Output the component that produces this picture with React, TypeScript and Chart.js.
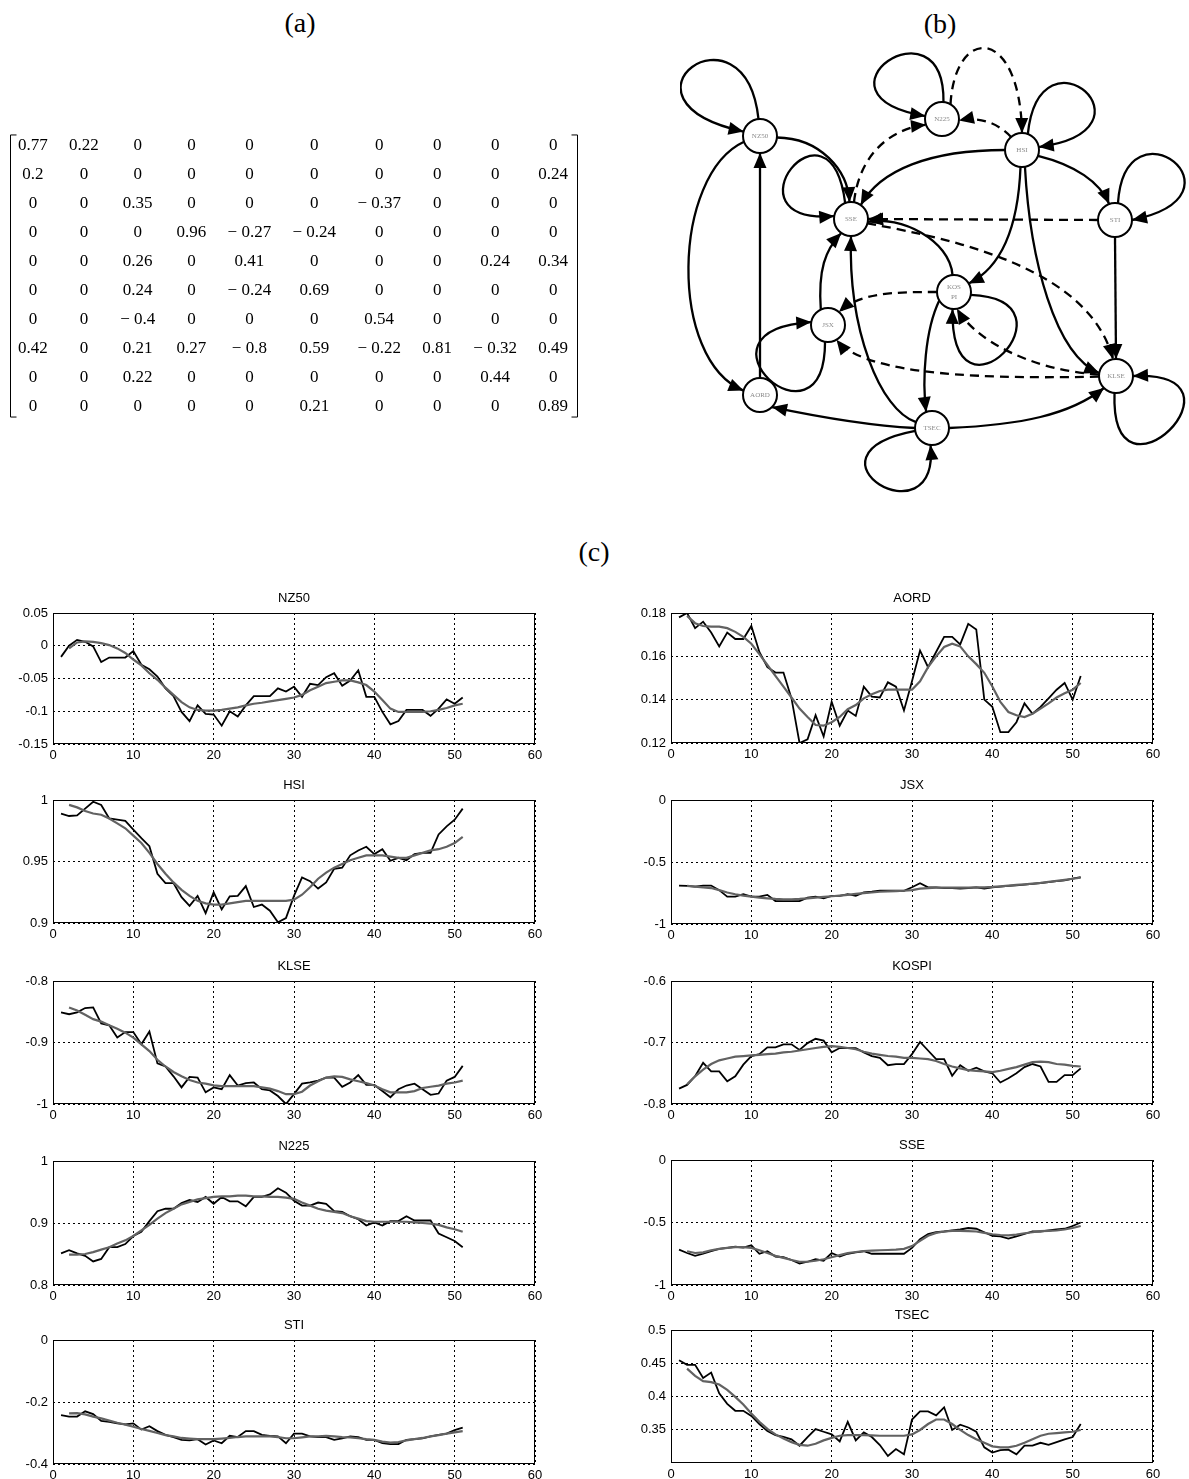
import React, { useEffect, useRef } from "react";
import { Chart, registerables } from "chart.js";

Chart.register(...registerables);

/* ---------------- (a) coefficient matrix ---------------- */
const matrixRow01 = [0.77, 0.22, 0, 0, 0, 0, 0, 0, 0, 0];
const matrixRow02 = [0.2, 0, 0, 0, 0, 0, 0, 0, 0, 0.24];
const matrixRow03 = [0, 0, 0.35, 0, 0, 0, -0.37, 0, 0, 0];
const matrixRow04 = [0, 0, 0, 0.96, -0.27, -0.24, 0, 0, 0, 0];
const matrixRow05 = [0, 0, 0.26, 0, 0.41, 0, 0, 0, 0.24, 0.34];
const matrixRow06 = [0, 0, 0.24, 0, -0.24, 0.69, 0, 0, 0, 0];
const matrixRow07 = [0, 0, -0.4, 0, 0, 0, 0.54, 0, 0, 0];
const matrixRow08 = [0.42, 0, 0.21, 0.27, -0.8, 0.59, -0.22, 0.81, -0.32, 0.49];
const matrixRow09 = [0, 0, 0.22, 0, 0, 0, 0, 0, 0.44, 0];
const matrixRow10 = [0, 0, 0, 0, 0, 0.21, 0, 0, 0, 0.89];
const matrixRows = [
  matrixRow01, matrixRow02, matrixRow03, matrixRow04, matrixRow05,
  matrixRow06, matrixRow07, matrixRow08, matrixRow09, matrixRow10,
];

/* ---------------- (b) network ---------------- */
const graphNodes = ["NZ50", "N225", "HSI", "SSE", "STI", "KOSPI", "JSX", "AORD", "KLSE", "TSEC"];
// from, to, negative (dashed)
const graphEdges: [string, string, boolean][] = [
  ["NZ50", "NZ50", false],
  ["AORD", "NZ50", false],
  ["NZ50", "AORD", false],
  ["NZ50", "SSE", false],
  ["SSE", "SSE", false],
  ["N225", "N225", false],
  ["HSI", "N225", true],
  ["N225", "HSI", true],
  ["SSE", "N225", true],
  ["HSI", "HSI", false],
  ["HSI", "SSE", false],
  ["HSI", "STI", false],
  ["STI", "STI", false],
  ["STI", "SSE", true],
  ["SSE", "KLSE", true],
  ["STI", "KLSE", false],
  ["HSI", "KOSPI", false],
  ["HSI", "KLSE", false],
  ["KOSPI", "SSE", false],
  ["KOSPI", "KOSPI", false],
  ["KLSE", "KOSPI", true],
  ["KOSPI", "JSX", true],
  ["KLSE", "JSX", true],
  ["KOSPI", "TSEC", false],
  ["TSEC", "SSE", false],
  ["JSX", "SSE", false],
  ["JSX", "JSX", false],
  ["TSEC", "AORD", false],
  ["TSEC", "KLSE", false],
  ["TSEC", "TSEC", false],
  ["KLSE", "KLSE", false],
];

/* ---------------- (c) time series ---------------- */
const xTicks = [0, 10, 20, 30, 40, 50, 60];

const nz50Actual = [-0.017, 0, 0.009, 0.006, -0.001, -0.025, -0.018, -0.018, -0.018, -0.008,
  -0.029, -0.036, -0.047, -0.065, -0.077, -0.101, -0.115, -0.091, -0.104, -0.105,
  -0.122, -0.1, -0.108, -0.091, -0.077, -0.077, -0.077, -0.065, -0.07, -0.0625,
  -0.078, -0.058, -0.06, -0.048, -0.042, -0.061, -0.053, -0.0375, -0.078, -0.078,
  -0.101, -0.12, -0.115, -0.098, -0.098, -0.098, -0.107, -0.096, -0.082, -0.0885, -0.079];
const nz50Fit = [-0.004, 0.005, 0.0068, 0.006, 0.004, 0.001, -0.004, -0.011, -0.021,
  -0.03, -0.042, -0.052, -0.064, -0.075, -0.086, -0.094, -0.098, -0.099, -0.099,
  -0.098, -0.096, -0.094, -0.091, -0.0885, -0.087, -0.085, -0.083, -0.081, -0.079,
  -0.075, -0.068, -0.0625, -0.057, -0.055, -0.053, -0.053, -0.056, -0.06, -0.07,
  -0.083, -0.096, -0.101, -0.101, -0.101, -0.101, -0.1, -0.098, -0.095, -0.091, -0.0885];
const nz50Range = [-0.15, 0.05];
const nz50Ticks = [-0.15, -0.1, -0.05, 0, 0.05];

const hsiActual = [0.989, 0.987, 0.9875, 0.993, 0.9986, 0.996, 0.985, 0.984, 0.983, 0.976,
  0.969, 0.9625, 0.94, 0.9325, 0.9325, 0.921, 0.914, 0.922, 0.908, 0.925,
  0.911, 0.9217, 0.922, 0.93, 0.913, 0.915, 0.91, 0.9006, 0.904, 0.922,
  0.937, 0.934, 0.928, 0.933, 0.944, 0.945, 0.955, 0.959, 0.962, 0.956,
  0.96, 0.9506, 0.953, 0.951, 0.956, 0.957, 0.957, 0.972, 0.9786, 0.984, 0.993];
const hsiFit = [0.996, 0.994, 0.991, 0.989, 0.988, 0.985, 0.981, 0.977, 0.971,
  0.965, 0.957, 0.948, 0.94, 0.933, 0.927, 0.922, 0.918, 0.916, 0.915,
  0.915, 0.916, 0.917, 0.918, 0.918, 0.918, 0.918, 0.918, 0.918, 0.919,
  0.923, 0.929, 0.936, 0.941, 0.945, 0.948, 0.951, 0.953, 0.955, 0.955,
  0.955, 0.954, 0.953, 0.953, 0.955, 0.957, 0.959, 0.96, 0.962, 0.965, 0.97];
const hsiRange = [0.9, 1];
const hsiTicks = [0.9, 0.95, 1];

const klseActual = [-0.851, -0.854, -0.851, -0.844, -0.843, -0.869, -0.872, -0.892, -0.883, -0.883,
  -0.903, -0.882, -0.934, -0.939, -0.955, -0.973, -0.956, -0.957, -0.981, -0.973,
  -0.976, -0.953, -0.97, -0.966, -0.965, -0.976, -0.978, -0.987, -1.0, -0.984,
  -0.967, -0.965, -0.962, -0.957, -0.957, -0.972, -0.965, -0.953, -0.969, -0.969,
  -0.979, -0.989, -0.976, -0.97, -0.967, -0.976, -0.985, -0.983, -0.962, -0.956, -0.938];
const klseFit = [-0.843, -0.848, -0.855, -0.862, -0.866, -0.872, -0.8775, -0.884, -0.892,
  -0.903, -0.914, -0.928, -0.939, -0.948, -0.955, -0.961, -0.965, -0.967, -0.9697,
  -0.971, -0.971, -0.971, -0.971, -0.971, -0.973, -0.975, -0.979, -0.984, -0.984,
  -0.98, -0.97, -0.963, -0.957, -0.955, -0.956, -0.96, -0.963, -0.966, -0.97,
  -0.976, -0.981, -0.981, -0.981, -0.979, -0.974, -0.972, -0.97, -0.967, -0.965, -0.962];
const klseRange = [-1, -0.8];
const klseTicks = [-1, -0.9, -0.8];

const n225Actual = [0.851, 0.856, 0.851, 0.847, 0.838, 0.842, 0.861, 0.861, 0.866, 0.879,
  0.886, 0.903, 0.919, 0.923, 0.923, 0.932, 0.937, 0.934, 0.942, 0.931,
  0.942, 0.935, 0.935, 0.927, 0.942, 0.942, 0.946, 0.956, 0.949, 0.936,
  0.928, 0.928, 0.933, 0.931, 0.919, 0.918, 0.911, 0.906, 0.896, 0.901,
  0.896, 0.903, 0.903, 0.911, 0.904, 0.904, 0.904, 0.883, 0.877, 0.871, 0.861];
const n225Fit = [0.849, 0.849, 0.85, 0.853, 0.857, 0.861, 0.867, 0.872, 0.879,
  0.888, 0.897, 0.907, 0.916, 0.923, 0.93, 0.934, 0.938, 0.94, 0.942,
  0.943, 0.943, 0.944, 0.944, 0.943, 0.943, 0.942, 0.942, 0.941, 0.939,
  0.933, 0.928, 0.923, 0.92, 0.918, 0.916, 0.911, 0.907, 0.903, 0.902,
  0.902, 0.902, 0.902, 0.902, 0.901, 0.9, 0.899, 0.897, 0.893, 0.89, 0.886];
const n225Range = [0.8, 1];
const n225Ticks = [0.8, 0.9, 1];

const stiActual = [-0.242, -0.247, -0.247, -0.23, -0.239, -0.261, -0.264, -0.269, -0.272, -0.269,
  -0.289, -0.278, -0.294, -0.306, -0.313, -0.322, -0.324, -0.32, -0.337, -0.324,
  -0.333, -0.309, -0.313, -0.294, -0.294, -0.306, -0.309, -0.311, -0.333, -0.302,
  -0.302, -0.311, -0.313, -0.313, -0.322, -0.317, -0.311, -0.313, -0.322, -0.322,
  -0.333, -0.336, -0.336, -0.322, -0.32, -0.317, -0.311, -0.306, -0.302, -0.291, -0.283];
const stiFit = [-0.237, -0.236, -0.24, -0.247, -0.253, -0.26, -0.267, -0.273, -0.28,
  -0.287, -0.293, -0.3, -0.307, -0.311, -0.316, -0.318, -0.32, -0.32, -0.32,
  -0.318, -0.316, -0.313, -0.311, -0.311, -0.311, -0.311, -0.313, -0.317, -0.317,
  -0.314, -0.311, -0.311, -0.309, -0.311, -0.313, -0.314, -0.317, -0.32, -0.322,
  -0.328, -0.331, -0.329, -0.324, -0.32, -0.316, -0.311, -0.307, -0.302, -0.298, -0.294];
const stiRange = [-0.4, 0];
const stiTicks = [-0.4, -0.2, 0];

const aordActual = [0.178, 0.18, 0.173, 0.176, 0.171, 0.1646, 0.171, 0.168, 0.168, 0.174,
  0.162, 0.155, 0.1525, 0.1525, 0.1406, 0.12, 0.1217, 0.1328, 0.123, 0.139,
  0.128, 0.135, 0.1325, 0.146, 0.1414, 0.141, 0.148, 0.146, 0.135, 0.1485,
  0.1627, 0.155, 0.162, 0.169, 0.169, 0.1655, 0.175, 0.1724, 0.14, 0.1367,
  0.125, 0.125, 0.1296, 0.1383, 0.1335, 0.1367, 0.1406, 0.1446, 0.1477, 0.14, 0.1509];
const aordFit = [0.1787, 0.1753, 0.174, 0.1737, 0.1737, 0.173, 0.1713, 0.169, 0.1658,
  0.161, 0.156, 0.151, 0.146, 0.141, 0.1359, 0.132, 0.1283, 0.128, 0.1296,
  0.132, 0.1356, 0.1375, 0.1406, 0.1425, 0.144, 0.1446, 0.1446, 0.1446, 0.1446,
  0.1485, 0.155, 0.16, 0.1643, 0.1658, 0.1646, 0.16, 0.1564, 0.1524, 0.1461,
  0.139, 0.1343, 0.1328, 0.132, 0.1335, 0.1359, 0.1383, 0.141, 0.143, 0.1446, 0.1477];
const aordRange = [0.12, 0.18];
const aordTicks = [0.12, 0.14, 0.16, 0.18];

const jsxActual = [-0.69, -0.693, -0.699, -0.69, -0.69, -0.727, -0.78, -0.78, -0.76, -0.78,
  -0.78, -0.765, -0.815, -0.815, -0.815, -0.815, -0.787, -0.78, -0.793, -0.773,
  -0.773, -0.76, -0.773, -0.746, -0.74, -0.732, -0.732, -0.732, -0.732, -0.704,
  -0.671, -0.704, -0.704, -0.71, -0.71, -0.715, -0.71, -0.704, -0.715, -0.704,
  -0.699, -0.693, -0.688, -0.682, -0.677, -0.671, -0.663, -0.655, -0.649, -0.635, -0.622];
const jsxFit = [-0.693, -0.699, -0.704, -0.71, -0.727, -0.746, -0.76, -0.771, -0.779,
  -0.787, -0.793, -0.798, -0.801, -0.801, -0.798, -0.793, -0.787, -0.782, -0.776,
  -0.771, -0.765, -0.757, -0.751, -0.746, -0.74, -0.737, -0.735, -0.732, -0.727,
  -0.715, -0.71, -0.707, -0.707, -0.707, -0.707, -0.707, -0.704, -0.704, -0.701,
  -0.696, -0.69, -0.685, -0.68, -0.674, -0.668, -0.66, -0.652, -0.644, -0.635, -0.627];
const jsxRange = [-1, 0];
const jsxTicks = [-1, -0.5, 0];

const kospiActual = [-0.775, -0.769, -0.755, -0.733, -0.747, -0.747, -0.763, -0.755, -0.736, -0.722,
  -0.719, -0.708, -0.708, -0.703, -0.703, -0.712, -0.701, -0.694, -0.697, -0.716,
  -0.709, -0.709, -0.709, -0.716, -0.722, -0.725, -0.737, -0.735, -0.735, -0.719,
  -0.699, -0.713, -0.727, -0.727, -0.754, -0.737, -0.746, -0.741, -0.747, -0.75,
  -0.765, -0.758, -0.75, -0.74, -0.735, -0.739, -0.764, -0.764, -0.753, -0.753, -0.742];
const kospiFit = [-0.768, -0.755, -0.744, -0.735, -0.729, -0.726, -0.723, -0.722, -0.721,
  -0.72, -0.719, -0.718, -0.716, -0.715, -0.713, -0.711, -0.709, -0.707, -0.706,
  -0.707, -0.709, -0.711, -0.715, -0.718, -0.72, -0.722, -0.723, -0.725, -0.725,
  -0.726, -0.727, -0.73, -0.735, -0.739, -0.742, -0.745, -0.746, -0.747, -0.748,
  -0.746, -0.743, -0.74, -0.736, -0.732, -0.731, -0.732, -0.735, -0.736, -0.738, -0.739];
const kospiRange = [-0.8, -0.6];
const kospiTicks = [-0.8, -0.7, -0.6];

const sseActual = [-0.717, -0.744, -0.767, -0.75, -0.73, -0.711, -0.703, -0.694, -0.7, -0.683,
  -0.75, -0.73, -0.772, -0.778, -0.8, -0.828, -0.814, -0.794, -0.806, -0.744,
  -0.772, -0.75, -0.739, -0.73, -0.75, -0.75, -0.75, -0.75, -0.75, -0.703,
  -0.633, -0.592, -0.578, -0.572, -0.564, -0.556, -0.544, -0.55, -0.578, -0.606,
  -0.611, -0.628, -0.611, -0.592, -0.572, -0.572, -0.564, -0.556, -0.55, -0.528, -0.5];
const sseFit = [-0.73, -0.744, -0.739, -0.722, -0.711, -0.703, -0.697, -0.697, -0.703,
  -0.722, -0.744, -0.767, -0.783, -0.8, -0.814, -0.814, -0.806, -0.794, -0.778,
  -0.761, -0.744, -0.736, -0.728, -0.725, -0.722, -0.72, -0.717, -0.711, -0.689,
  -0.647, -0.606, -0.583, -0.572, -0.567, -0.567, -0.569, -0.572, -0.583, -0.594,
  -0.6, -0.603, -0.597, -0.586, -0.578, -0.569, -0.567, -0.564, -0.556, -0.544, -0.528];
const sseRange = [-1, 0];
const sseTicks = [-1, -0.5, 0];

const tsecActual = [0.4545, 0.4476, 0.4476, 0.428, 0.436, 0.4047, 0.389, 0.3785, 0.3785, 0.3707,
  0.3586, 0.348, 0.342, 0.3393, 0.3356, 0.326, 0.339, 0.351, 0.347, 0.343,
  0.3325, 0.362, 0.334, 0.346, 0.339, 0.327, 0.3105, 0.321, 0.313, 0.3654,
  0.3775, 0.3775, 0.3717, 0.3838, 0.3497, 0.3576, 0.3534, 0.347, 0.3236, 0.3157,
  0.3194, 0.32, 0.313, 0.3262, 0.3262, 0.3304, 0.3272, 0.3314, 0.3356, 0.339, 0.3586];
const tsecFit = [0.442, 0.431, 0.423, 0.4215, 0.418, 0.41, 0.3995, 0.388, 0.3743,
  0.362, 0.3513, 0.343, 0.3367, 0.3314, 0.3272, 0.326, 0.329, 0.334, 0.3377,
  0.341, 0.342, 0.342, 0.342, 0.3415, 0.341, 0.341, 0.341, 0.341, 0.343,
  0.3497, 0.3586, 0.3654, 0.3654, 0.3586, 0.3497, 0.342, 0.3356, 0.3304, 0.325,
  0.3236, 0.3236, 0.326, 0.3304, 0.3356, 0.341, 0.344, 0.345, 0.346, 0.347, 0.3497];
const tsecRange = [0.3, 0.5];
const tsecTicks = [0.35, 0.4, 0.45, 0.5];

type PanelSpec = { title: string; actual: number[]; fit: number[]; range: number[]; ticks: number[] };

const panels: PanelSpec[] = [
  { title: "NZ50", actual: nz50Actual, fit: nz50Fit, range: nz50Range, ticks: nz50Ticks },
  { title: "HSI", actual: hsiActual, fit: hsiFit, range: hsiRange, ticks: hsiTicks },
  { title: "KLSE", actual: klseActual, fit: klseFit, range: klseRange, ticks: klseTicks },
  { title: "N225", actual: n225Actual, fit: n225Fit, range: n225Range, ticks: n225Ticks },
  { title: "STI", actual: stiActual, fit: stiFit, range: stiRange, ticks: stiTicks },
  { title: "AORD", actual: aordActual, fit: aordFit, range: aordRange, ticks: aordTicks },
  { title: "JSX", actual: jsxActual, fit: jsxFit, range: jsxRange, ticks: jsxTicks },
  { title: "KOSPI", actual: kospiActual, fit: kospiFit, range: kospiRange, ticks: kospiTicks },
  { title: "SSE", actual: sseActual, fit: sseFit, range: sseRange, ticks: sseTicks },
  { title: "TSEC", actual: tsecActual, fit: tsecFit, range: tsecRange, ticks: tsecTicks },
];

/* ---------------- layout (positions / sizes only) ---------------- */
// plot-area boxes in page px: left, top, width, height
const panelBoxes: Record<string, number[]> = {
  NZ50: [53, 613, 482, 131],
  HSI: [53, 800, 482, 123],
  KLSE: [53, 981, 482, 123],
  N225: [53, 1161, 482, 124],
  STI: [53, 1340, 482, 124],
  AORD: [671, 613, 482, 130],
  JSX: [671, 800, 482, 124],
  KOSPI: [671, 981, 482, 123],
  SSE: [671, 1160, 482, 125],
  TSEC: [671, 1330, 482, 133],
};

const nodeLayout: Record<string, number[]> = {
  NZ50: [760, 136], N225: [942, 119], HSI: [1022, 150], SSE: [851, 219], STI: [1115, 220],
  KOSPI: [954, 292], JSX: [828, 325], AORD: [760, 395], KLSE: [1116, 376], TSEC: [932, 428],
};
// attach angle at source, attach angle at target, control points (optional)
const edgeRoutes: number[][] = [
  [-95, 195, 745, -5, 600, 100],
  [-90, 90],
  [160, 195, 672, 175, 668, 360],
  [5, -95, 820, 138, 848, 170],
  [-110, 190, 830, 85, 720, 225],
  [-85, 190, 945, -5, 800, 95],
  [-130, 5, 995, 120, 975, 117],
  [-60, -90, 955, 25, 1020, 25],
  [-80, 160, 860, 150, 895, 128],
  [-70, -10, 1040, 20, 1165, 130],
  [180, -55, 930, 150, 880, 170],
  [20, -110, 1075, 165, 1100, 182],
  [-80, 0, 1125, 95, 1255, 195],
  [180, 0],
  [15, -100, 960, 240, 1090, 270],
  [90, -90],
  [95, -30, 1018, 230, 1000, 268],
  [80, 190, 1030, 260, 1055, 355],
  [-95, 10, 950, 240, 900, 215],
  [10, 95, 1085, 300, 950, 440],
  [185, 80, 1030, 370, 975, 340],
  [180, -50, 890, 292, 860, 293],
  [178, 60, 950, 380, 860, 370],
  [150, -110, 925, 330, 922, 380],
  [200, 90, 880, 410, 848, 330],
  [-115, 125, 818, 270, 825, 250],
  [100, 190, 825, 460, 680, 330],
  [180, 45, 860, 425, 810, 415],
  [0, 135, 1020, 425, 1070, 415],
  [170, 95, 790, 455, 940, 545],
  [95, 0, 1110, 520, 1260, 370],
];

const SANS = '"Liberation Sans", Arial, Helvetica, sans-serif';
const SERIF = '"Liberation Serif", "Times New Roman", serif';

function fmtCell(v: number): string {
  if (v === 0) return "0";
  if (v < 0) return "\u2212 " + String(-v);
  return String(v);
}

function fmtTick(v: number): string {
  return String(Math.round(v * 10000) / 10000);
}

/* ---------------- components ---------------- */
function MatrixChart() {
  const ref = useRef<HTMLCanvasElement>(null);
  useEffect(() => {
    const cells: any[] = [];
    matrixRows.forEach((row, r) => row.forEach((v, c) => cells.push({ x: c, y: r })));
    const textPlugin = {
      id: "matrixText",
      afterDatasetsDraw(chart: any) {
        const { ctx, chartArea, scales } = chart;
        const ys = scales.y;
        ctx.save();
        ctx.font = "17px " + SERIF;
        const nCols = matrixRows[0].length;
        const widths: number[] = [];
        for (let c = 0; c < nCols; c++) {
          widths.push(Math.max(...matrixRows.map((row) => ctx.measureText(fmtCell(row[c])).width)));
        }
        const innerL = chartArea.left + 8;
        const innerR = chartArea.right - 10;
        const total = widths.reduce((a, b) => a + b, 0);
        const gap = (innerR - innerL - total) / (nCols - 1);
        const centers: number[] = [];
        let xx = innerL;
        widths.forEach((w) => {
          centers.push(xx + w / 2);
          xx += w + gap;
        });
        ctx.fillStyle = "#000";
        ctx.textAlign = "center";
        ctx.textBaseline = "middle";
        matrixRows.forEach((row, r) =>
          row.forEach((v, c) => ctx.fillText(fmtCell(v), centers[c], ys.getPixelForValue(r)))
        );
        const top = ys.getPixelForValue(-0.38);
        const bot = ys.getPixelForValue(matrixRows.length - 1 + 0.38);
        const L = chartArea.left + 0.5;
        const R = chartArea.right - 0.5;
        ctx.strokeStyle = "#000";
        ctx.lineWidth = 1;
        ctx.beginPath();
        ctx.moveTo(L + 6, top); ctx.lineTo(L, top); ctx.lineTo(L, bot); ctx.lineTo(L + 6, bot);
        ctx.moveTo(R - 6, top); ctx.lineTo(R, top); ctx.lineTo(R, bot); ctx.lineTo(R - 6, bot);
        ctx.stroke();
        ctx.restore();
      },
    };
    const chart = new Chart(ref.current as HTMLCanvasElement, {
      type: "scatter",
      data: { datasets: [{ data: cells, pointRadius: 0, pointHoverRadius: 0 }] },
      options: {
        animation: false,
        responsive: false,
        events: [],
        layout: { autoPadding: false, padding: { left: 10, right: 12, top: 11.5, bottom: 9.5 } },
        plugins: { legend: { display: false }, tooltip: { enabled: false } },
        scales: {
          x: { type: "linear", display: false, min: 0, max: 9 },
          y: { type: "linear", display: false, min: -0.5, max: 9.5, reverse: true },
        },
      },
      plugins: [textPlugin],
    } as any);
    return () => chart.destroy();
  }, []);
  return <canvas ref={ref} width={590} height={310} style={{ position: "absolute", left: 0, top: 120 }} />;
}

function GraphChart() {
  const ref = useRef<HTMLCanvasElement>(null);
  useEffect(() => {
    const NODE_R = 17;
    const edgePlugin = {
      id: "graphEdges",
      beforeDatasetsDraw(chart: any) {
        const { ctx, scales } = chart;
        const px = (x: number, y: number) => [scales.x.getPixelForValue(x), scales.y.getPixelForValue(y)];
        ctx.save();
        ctx.strokeStyle = "#000";
        ctx.fillStyle = "#000";
        ctx.lineWidth = 2.3;
        graphEdges.forEach(([f, t, neg], i) => {
          const r = edgeRoutes[i];
          const [fx, fy] = nodeLayout[f];
          const [tx, ty] = nodeLayout[t];
          const a1 = (r[0] * Math.PI) / 180;
          const a2 = (r[1] * Math.PI) / 180;
          const s = px(fx + NODE_R * Math.cos(a1), fy + NODE_R * Math.sin(a1));
          const e = px(tx + NODE_R * Math.cos(a2), ty + NODE_R * Math.sin(a2));
          let c1 = s;
          let c2 = s;
          const curved = r.length >= 6;
          if (curved) {
            c1 = px(r[2], r[3]);
            c2 = px(r[4], r[5]);
          }
          ctx.setLineDash(neg ? [9, 6] : []);
          ctx.beginPath();
          ctx.moveTo(s[0], s[1]);
          if (curved) ctx.bezierCurveTo(c1[0], c1[1], c2[0], c2[1], e[0], e[1]);
          else ctx.lineTo(e[0], e[1]);
          ctx.stroke();
          // arrow head
          let dx = e[0] - c2[0];
          let dy = e[1] - c2[1];
          const len = Math.hypot(dx, dy) || 1;
          dx /= len;
          dy /= len;
          const AL = 15;
          const AW = 6.5;
          ctx.setLineDash([]);
          ctx.beginPath();
          ctx.moveTo(e[0], e[1]);
          ctx.lineTo(e[0] - dx * AL - dy * AW, e[1] - dy * AL + dx * AW);
          ctx.lineTo(e[0] - dx * AL + dy * AW, e[1] - dy * AL - dx * AW);
          ctx.closePath();
          ctx.fill();
        });
        ctx.restore();
      },
      afterDatasetsDraw(chart: any) {
        const { ctx, scales } = chart;
        ctx.save();
        ctx.fillStyle = "#8a8a8a";
        ctx.font = "7px " + SERIF;
        ctx.textAlign = "center";
        ctx.textBaseline = "middle";
        graphNodes.forEach((n) => {
          const x = scales.x.getPixelForValue(nodeLayout[n][0]);
          const y = scales.y.getPixelForValue(nodeLayout[n][1]);
          if (n === "KOSPI") {
            ctx.fillText("KOS", x, y - 5);
            ctx.fillText("PI", x, y + 5);
          } else {
            ctx.fillText(n, x, y);
          }
        });
        ctx.restore();
      },
    };
    const chart = new Chart(ref.current as HTMLCanvasElement, {
      type: "scatter",
      data: {
        datasets: [
          {
            data: graphNodes.map((n) => ({ x: nodeLayout[n][0], y: nodeLayout[n][1] })),
            pointRadius: NODE_R,
            pointHoverRadius: NODE_R,
            pointBackgroundColor: "#fff",
            pointBorderColor: "#000",
            pointBorderWidth: 2,
            clip: false,
          },
        ],
      },
      options: {
        animation: false,
        responsive: false,
        events: [],
        layout: { autoPadding: false, padding: 0 },
        plugins: { legend: { display: false }, tooltip: { enabled: false } },
        scales: {
          x: { type: "linear", display: false, min: 680, max: 1189 },
          y: { type: "linear", display: false, min: 40, max: 498, reverse: true },
        },
      },
      plugins: [edgePlugin],
    } as any);
    return () => chart.destroy();
  }, []);
  return <canvas ref={ref} width={509} height={458} style={{ position: "absolute", left: 680, top: 40 }} />;
}

function SeriesPanel({ spec }: { spec: PanelSpec }) {
  const ref = useRef<HTMLCanvasElement>(null);
  const [left, top, w, h] = panelBoxes[spec.title];
  const L = 52, T = 30, R = 16, B = 22;
  useEffect(() => {
    const framePlugin = {
      id: "frameTitle",
      afterDraw(chart: any) {
        const { ctx, chartArea } = chart;
        ctx.save();
        ctx.setLineDash([]);
        ctx.strokeStyle = "#000";
        ctx.lineWidth = 1;
        ctx.strokeRect(
          Math.round(chartArea.left) + 0.5,
          Math.round(chartArea.top) + 0.5,
          Math.round(chartArea.right - chartArea.left) - 1,
          Math.round(chartArea.bottom - chartArea.top) - 1
        );
        ctx.fillStyle = "#000";
        ctx.font = "13px " + SANS;
        ctx.textAlign = "center";
        ctx.textBaseline = "middle";
        ctx.fillText(spec.title, (chartArea.left + chartArea.right) / 2, chartArea.top - 15);
        ctx.restore();
      },
    };
    const gridCfg = { color: "#000", lineWidth: 1, drawTicks: false };
    const borderCfg = { display: false, dash: [2, 3] };
    const tickFont = { family: SANS, size: 13 };
    const chart = new Chart(ref.current as HTMLCanvasElement, {
      type: "line",
      data: {
        datasets: [
          {
            data: spec.fit.map((v, i) => ({ x: i + 2, y: v })),
            borderColor: "#626262",
            borderWidth: 2.2,
            pointRadius: 0,
            tension: 0,
            order: 1,
          },
          {
            data: spec.actual.map((v, i) => ({ x: i + 1, y: v })),
            borderColor: "#000",
            borderWidth: 1.8,
            pointRadius: 0,
            tension: 0,
            order: 2,
          },
        ],
      },
      options: {
        animation: false,
        responsive: false,
        events: [],
        layout: { autoPadding: false, padding: { top: T, right: R, left: 0, bottom: 0 } },
        plugins: { legend: { display: false }, tooltip: { enabled: false } },
        scales: {
          x: {
            type: "linear",
            min: xTicks[0],
            max: xTicks[xTicks.length - 1],
            afterBuildTicks: (s: any) => {
              s.ticks = xTicks.map((v) => ({ value: v }));
            },
            afterFit: (s: any) => {
              s.height = B;
            },
            grid: gridCfg,
            border: borderCfg,
            ticks: { font: tickFont, color: "#000", padding: 4, maxRotation: 0, callback: (v: any) => fmtTick(Number(v)) },
          },
          y: {
            type: "linear",
            min: spec.range[0],
            max: spec.range[1],
            afterBuildTicks: (s: any) => {
              s.ticks = spec.ticks.map((v) => ({ value: v }));
            },
            afterFit: (s: any) => {
              s.width = L;
            },
            grid: gridCfg,
            border: borderCfg,
            ticks: { font: tickFont, color: "#000", padding: 5, callback: (v: any) => fmtTick(Number(v)) },
          },
        },
      },
      plugins: [framePlugin],
    } as any);
    return () => chart.destroy();
  }, []);
  return (
    <canvas
      ref={ref}
      width={w + L + R}
      height={h + T + B}
      style={{ position: "absolute", left: left - L, top: top - T }}
    />
  );
}

function PanelLabel({ text, x, y }: { text: string; x: number; y: number }) {
  return (
    <div
      style={{
        position: "absolute",
        left: x - 40,
        top: y - 16,
        width: 80,
        height: 32,
        lineHeight: "32px",
        textAlign: "center",
        fontFamily: SERIF,
        fontSize: 28,
        color: "#000",
      }}
    >
      {text}
    </div>
  );
}

export default function App() {
  return (
    <div
      style={{
        position: "absolute",
        left: 0,
        top: 0,
        width: 1189,
        height: 1479,
        background: "#fff",
        overflow: "hidden",
      }}
    >
      <PanelLabel text="(a)" x={300} y={23} />
      <PanelLabel text="(b)" x={940} y={24} />
      <PanelLabel text="(c)" x={594} y={552} />
      <MatrixChart />
      <GraphChart />
      {panels.map((p) => (
        <SeriesPanel key={p.title} spec={p} />
      ))}
    </div>
  );
}
